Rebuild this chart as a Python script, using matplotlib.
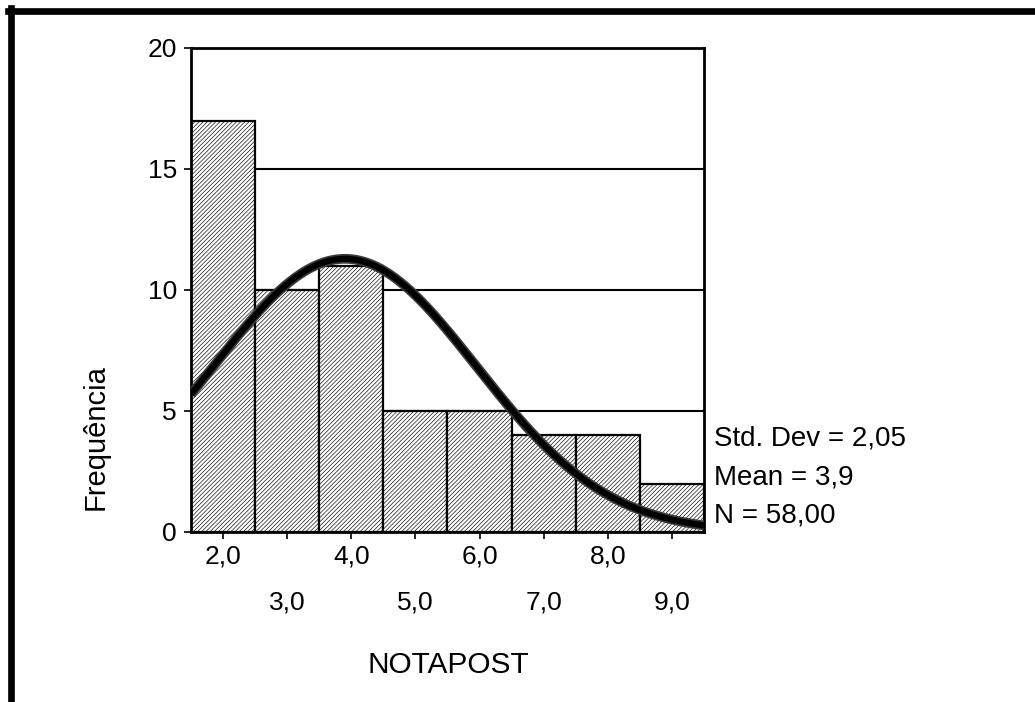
import numpy as np
import matplotlib
matplotlib.use("Agg")
from matplotlib import pyplot as plt
from matplotlib.lines import Line2D

plt.rcParams["font.family"] = ["Liberation Sans", "DejaVu Sans"]
plt.rcParams["hatch.linewidth"] = 0.45
plt.rcParams["hatch.color"] = "#222222"

# NOTAPOST histogram (bin centres and counts)
bins = [2, 3, 4, 5, 6, 7, 8, 9]
counts = [17, 10, 11, 5, 5, 4, 4, 2]
tick_labels = ["2,0", "3,0", "4,0", "5,0", "6,0", "7,0", "8,0", "9,0"]
y_ticks = [0, 5, 10, 15, 20]

std_dev = 2.05
mean = 3.9
n = 58

fig = plt.figure(figsize=(10.35, 7.02), dpi=100)
ax = fig.add_axes([0.1845, 0.2422, 0.4957, 0.6895])

# horizontal reference lines behind the bars
for yv in y_ticks[1:]:
    ax.axhline(yv, color="black", lw=1.5, zorder=0)

ax.bar(bins, counts, width=1.0, color="white", edgecolor="black",
       linewidth=1.6, hatch="/" * 8, zorder=2)

# fitted normal curve scaled to the counts
x = np.linspace(1.5, 9.5, 400)
y = n * 1.0 / (std_dev * np.sqrt(2 * np.pi)) * np.exp(-0.5 * ((x - mean) / std_dev) ** 2)
ax.plot(x, y, color="#3a3a3a", lw=7, solid_capstyle="butt", zorder=3)
ax.plot(x, y, color="black", lw=4.5, solid_capstyle="butt", zorder=4)

ax.set_xlim(1.5, 9.5)
ax.set_ylim(0, 20)
ax.set_yticks(y_ticks)
ax.set_xticks(bins)
ax.set_xticklabels(tick_labels)
ax.tick_params(axis="both", direction="out", length=5, width=1.2,
               labelsize=19, colors="black")
ax.tick_params(axis="x", pad=4)
ax.tick_params(axis="y", pad=5)
for i, t in enumerate(ax.xaxis.get_major_ticks()):
    if i % 2 == 1:
        t.set_pad(37)
for s in ax.spines.values():
    s.set_linewidth(2)

fig.text(0.092, 0.378, "Frequência", rotation=90, fontsize=21,
         ha="center", va="center")
fig.text(0.433, 0.053, "NOTAPOST", fontsize=21.5, ha="center", va="center")

fig.text(0.690, 0.376, "Std. Dev = 2,05", fontsize=20, va="center")
fig.text(0.690, 0.3205, "Mean = 3,9", fontsize=20, va="center")
fig.text(0.690, 0.265, "N = 58,00", fontsize=20, va="center")

# thick frame along the top and left edges
fig.add_artist(Line2D([0.0075, 1.0], [0.9843, 0.9843], color="black",
                      lw=4.8, transform=fig.transFigure))
fig.add_artist(Line2D([0.0106, 0.0106], [0.0, 0.988], color="black",
                      lw=4.8, transform=fig.transFigure))

fig.savefig("out.png", dpi=100)
